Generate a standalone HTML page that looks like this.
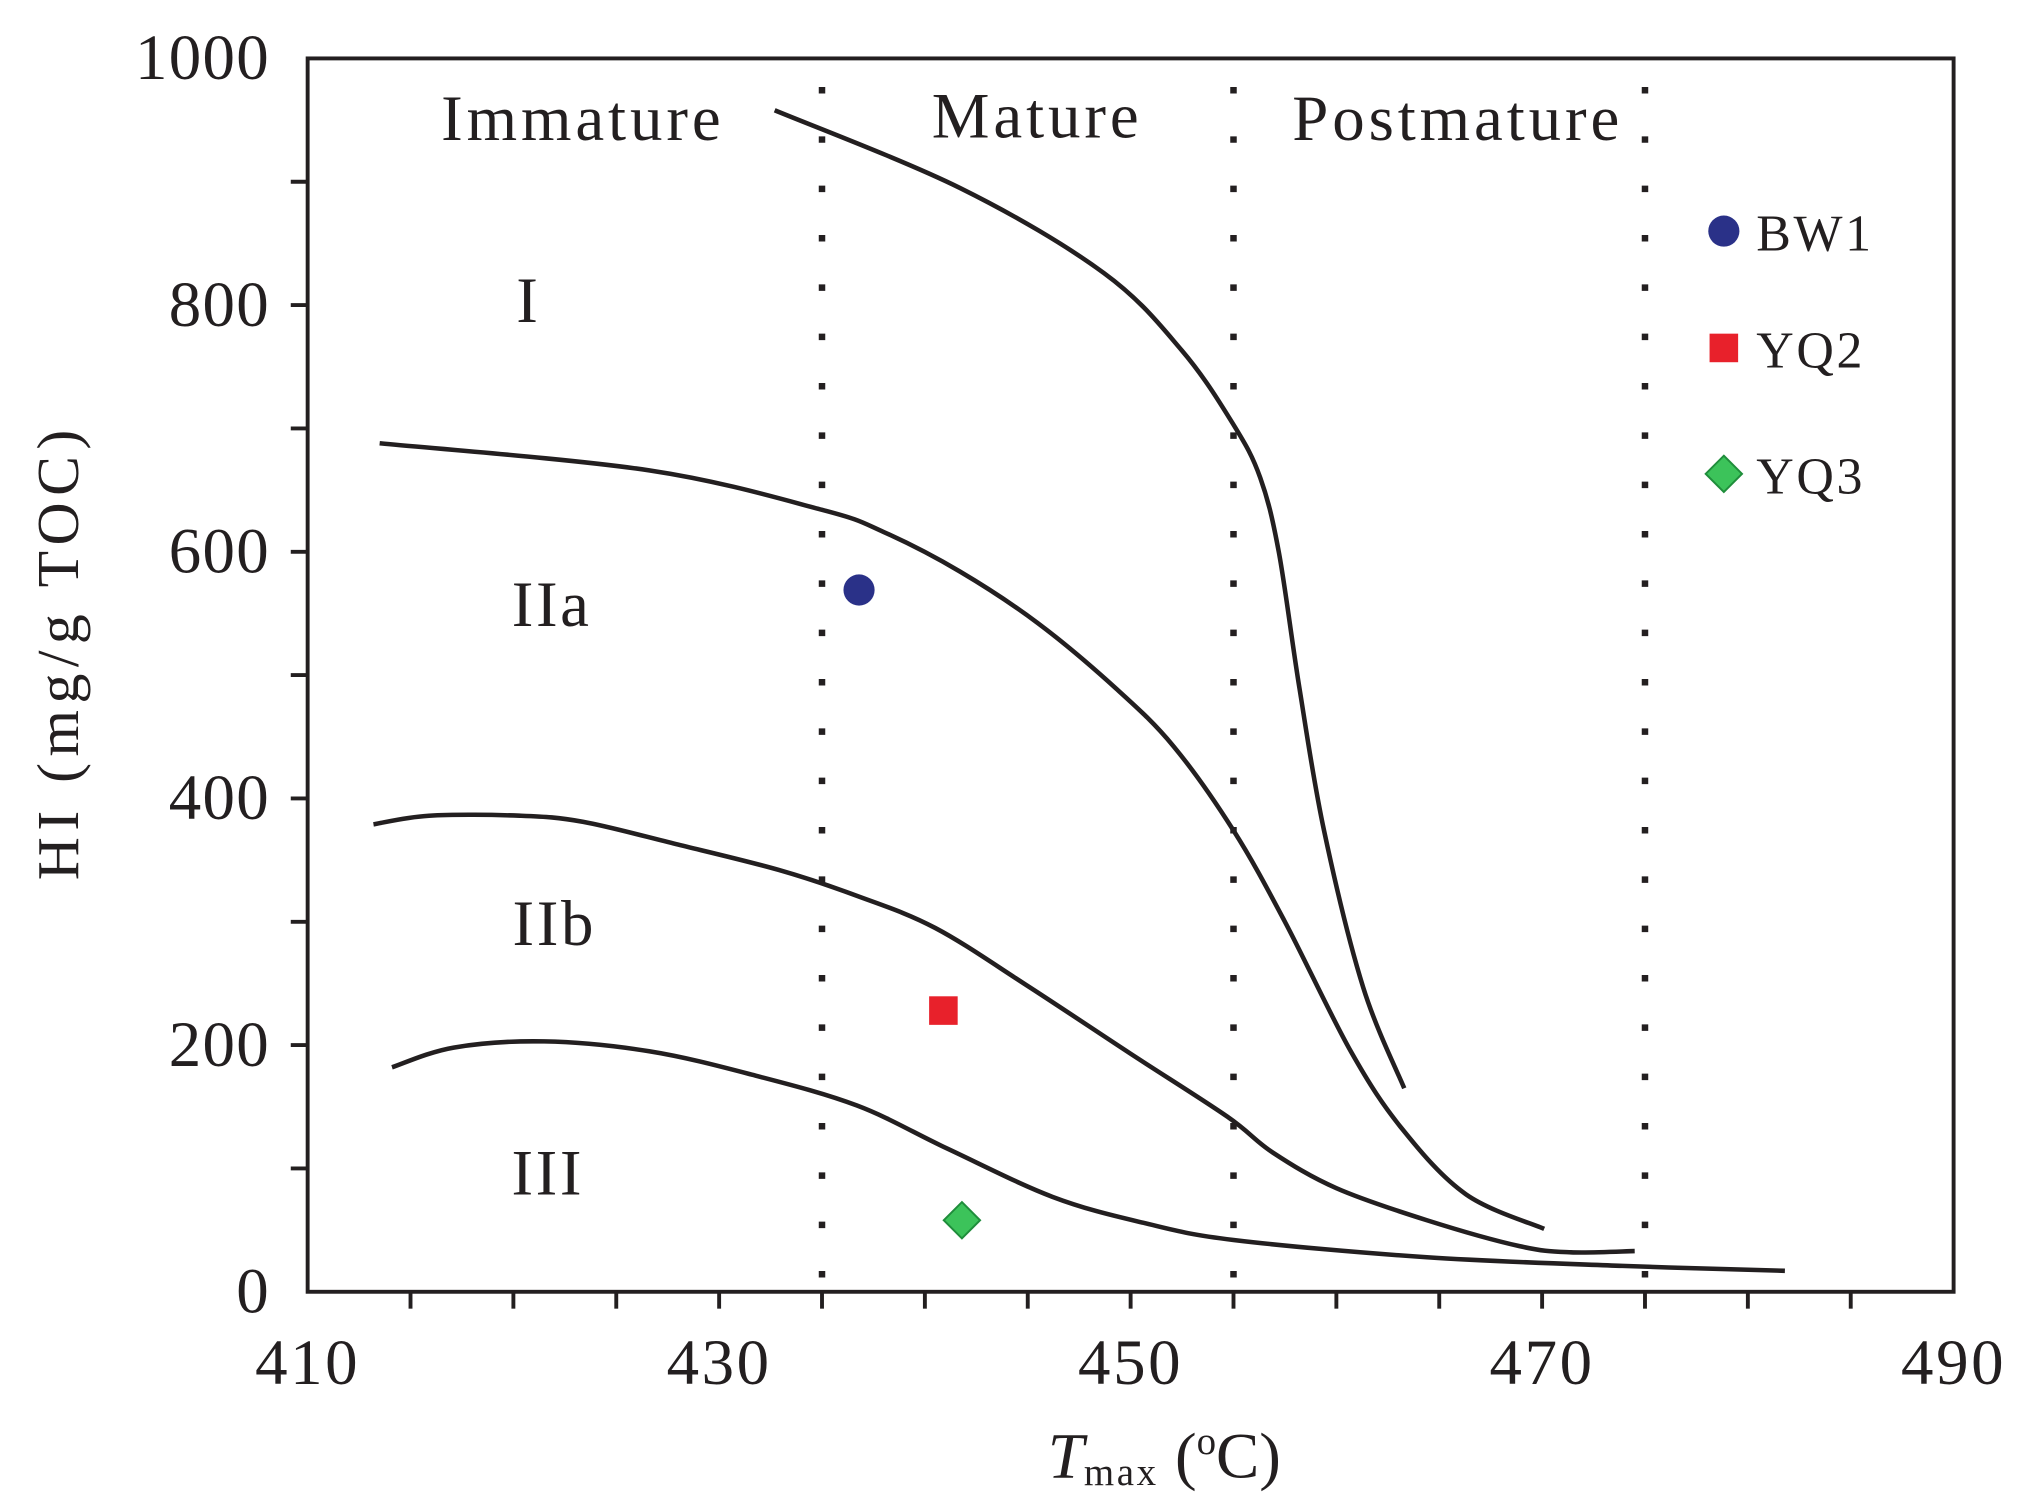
<!DOCTYPE html>
<html><head><meta charset="utf-8"><style>
html,body{margin:0;padding:0;background:#fff;}
svg{display:block;}
text{font-family:"Liberation Serif",serif;fill:#231f20;}
</style></head><body>
<svg id="chart" width="2025" height="1506" viewBox="0 0 1560 1160" preserveAspectRatio="none" xmlns="http://www.w3.org/2000/svg">
<g id="g"></g>
</svg>
<script>
const xTicks=[410,430,450,470,490];
const yTicks=[0,200,400,600,800,1000];
const maturityBounds=[435,455,475];
const curveI_T=[432.7,441.7,448.7,452.5,455,456.3,457.2,458.2,459.4,461.3,463.3];
const curveI_HI=[958,895,826,763,703,660,600,490,374,247,165];
const curveIIa_T=[413.5,426.6,435,438,441.7,445.5,449.3,452.1,455,457.5,460.7,463.2,466.3,470.1];
const curveIIa_HI=[688,666,634,616,584,542,489,442,374,300,195,132,79,51];
const curveIIb_T=[413.2,415.9,420.3,423.4,427.9,432.9,436.7,440.5,444.9,450,454.7,456.9,460,464.4,468.9,471.4,474.5];
const curveIIb_HI=[379,386,386,381,363,342,321,295,249,193,142,113,84,58,37,32,33];
const curveIII_T=[414.1,417.1,421.5,426.6,431.6,436.7,441.1,446.2,450.6,455,464.4,473.9,481.8];
const curveIII_HI=[182,198,203,195,176,151,116,77,56,42,28,21,17];
const sampleNames=["BW1","YQ2","YQ3"];
const sampleT=[436.8,440.9,441.8];
const sampleHI=[569,228,58];

const L=237,R=1505,T=45,B=995;
const X=v=>L+(v-410)/80*(R-L);
const Y=v=>B-v/1000*(B-T);
const NS="http://www.w3.org/2000/svg";
const g=document.getElementById('g');
function mk(tag,attrs,name,parent){const e=document.createElementNS(NS,tag);for(const k in attrs)e.setAttribute(k,attrs[k]);


(parent||g).appendChild(e);return e;}
function txt(s,attrs,name){const e=mk('text',attrs,name);e.textContent=s;return e;}

mk('rect',{x:L,y:T,width:R-L,height:B-T,fill:'none',stroke:'#231f20','stroke-width':3},'plot-frame');
for(let v=415;v<490;v+=5){mk('line',{x1:X(v),x2:X(v),y1:B,y2:B+13,stroke:'#231f20','stroke-width':3},'x-tick');}
xTicks.forEach(v=>txt(String(v),{x:X(v),y:1066,'font-size':50,'text-anchor':'middle','letter-spacing':'2'},'x-tick-label'));
for(let v=100;v<1000;v+=100){mk('line',{x1:L-13,x2:L,y1:Y(v),y2:Y(v),stroke:'#231f20','stroke-width':3},'y-tick');}
yTicks.forEach(v=>txt(String(v),{x:208,y:Y(v)+16,'font-size':50,'text-anchor':'end','letter-spacing':'1'},'y-tick-label'));
txt('HI (mg/g TOC)',{x:0,y:0,'font-size':46,'text-anchor':'middle','letter-spacing':'5',transform:'translate(60,502) rotate(-90)'},'y-axis-title');
const xt=mk('text',{x:897,y:1138,'font-size':50,'text-anchor':'middle'},'x-axis-title');
xt.innerHTML='<tspan font-style="italic">T</tspan><tspan font-size="30" dy="6" letter-spacing="2">max</tspan><tspan dy="-6"> (</tspan><tspan font-size="30" dy="-18">o</tspan><tspan dy="18">C)</tspan>';
maturityBounds.forEach(v=>mk('line',{x1:X(v),x2:X(v),y1:T+22,y2:B,stroke:'#231f20','stroke-width':5,'stroke-dasharray':'5 33'},'maturity-boundary'));
txt('Immature',{x:449,y:108,'font-size':50,'text-anchor':'middle','letter-spacing':'3'},'zone-label-immature');
txt('Mature',{x:799,y:106,'font-size':50,'text-anchor':'middle','letter-spacing':'3'},'zone-label-mature');
txt('Postmature',{x:1123,y:108,'font-size':50,'text-anchor':'middle','letter-spacing':'3'},'zone-label-postmature');
[['I',407,248],['IIa',425,482],['IIb',427,728],['III',422,920]].forEach(a=>txt(a[0],{x:a[1],y:a[2],'font-size':50,'text-anchor':'middle','letter-spacing':'2'},'kerogen-type-label'));
function path(xs,ys){const p=xs.map((v,i)=>[X(v),Y(ys[i])]);let d='M'+p[0][0]+','+p[0][1];
for(let i=0;i<p.length-1;i++){const p0=p[Math.max(i-1,0)],p1=p[i],p2=p[i+1],p3=p[Math.min(i+2,p.length-1)];
d+=' C'+(p1[0]+(p2[0]-p0[0])/6)+','+(p1[1]+(p2[1]-p0[1])/6)+' '+(p2[0]-(p3[0]-p1[0])/6)+','+(p2[1]-(p3[1]-p1[1])/6)+' '+p2[0]+','+p2[1];}return d;}
mk('path',{d:path(curveI_T,curveI_HI),fill:'none',stroke:'#231f20','stroke-width':3.5},'curve-type-i');
mk('path',{d:path(curveIIa_T,curveIIa_HI),fill:'none',stroke:'#231f20','stroke-width':3.5},'curve-type-iia');
mk('path',{d:path(curveIIb_T,curveIIb_HI),fill:'none',stroke:'#231f20','stroke-width':3.5},'curve-type-iib');
mk('path',{d:path(curveIII_T,curveIII_HI),fill:'none',stroke:'#231f20','stroke-width':3.5},'curve-type-iii');
function marker(k,cx,cy,name){
 if(k===0) return mk('circle',{cx:cx,cy:cy,r:12,fill:'#2a3188'},name);
 if(k===1) return mk('rect',{x:cx-11,y:cy-11,width:22,height:22,fill:'#e8212b'},name);
 return mk('path',{d:`M${cx},${cy-14} L${cx+14},${cy} L${cx},${cy+14} L${cx-14},${cy} Z`,fill:'#3cc35a',stroke:'#1f8d3b','stroke-width':1.5},name);
}
sampleNames.forEach((n,i)=>marker(i,X(sampleT[i]),Y(sampleHI[i]),'point-'+n.toLowerCase()));
const legY=[178,268,365];
sampleNames.forEach((n,i)=>{marker(i,1328,legY[i],'legend-marker-'+n.toLowerCase());
 txt(n,{x:1353,y:legY[i]+15,'font-size':40,'letter-spacing':'2'},'legend-label-'+n.toLowerCase());});
</script>
</body></html>
